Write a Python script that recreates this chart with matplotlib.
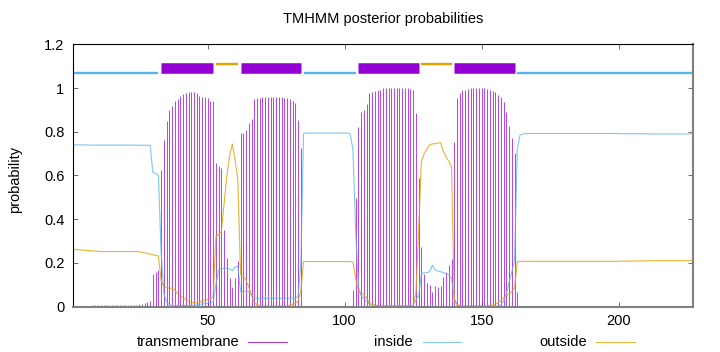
import numpy as np
import matplotlib
matplotlib.use('Agg')
import matplotlib.pyplot as plt
from matplotlib.lines import Line2D

plt.rcParams['font.family'] = ['Liberation Sans', 'DejaVu Sans']
plt.rcParams['font.size'] = 10.5

# posterior probabilities per residue (1..227)
transmembrane = [
    0, 0, 0, 0, 0.004, 0.004, 0.004, 0.005, 0.006, 0.008,
    0.009, 0.009, 0.009, 0.009, 0.009, 0.009, 0.009, 0.009, 0.009, 0.009,
    0.009, 0.009, 0.009, 0.009, 0.011, 0.013, 0.016, 0.02, 0.025, 0.148,
    0.157, 0.168, 0.625, 0.762, 0.85, 0.90, 0.919, 0.942, 0.951, 0.965,
    0.972, 0.977, 0.982, 0.983, 0.982, 0.976, 0.964, 0.958, 0.958, 0.953,
    0.942, 0.94, 0.656, 0.643, 0.633, 0.351, 0.224, 0.13, 0.09, 0.13,
    0.21, 0.793, 0.793, 0.81, 0.838, 0.86, 0.95, 0.953, 0.955, 0.957,
    0.957, 0.957, 0.958, 0.958, 0.958, 0.957, 0.957, 0.956, 0.955, 0.95,
    0.942, 0.93, 0.854, 0.724, 0.001, 0, 0, 0, 0, 0,
    0, 0, 0, 0, 0, 0, 0, 0, 0, 0,
    0, 0, 0.076, 0.495, 0.823, 0.892, 0.9, 0.925, 0.976, 0.98,
    0.988, 0.99, 0.993, 0.998, 0.998, 0.998, 0.998, 0.998, 0.998, 0.998,
    0.998, 0.998, 0.998, 0.995, 0.99, 0.884, 0.587, 0.274, 0.15, 0.11,
    0.1, 0.065, 0.095, 0.09, 0.095, 0.135, 0.16, 0.19, 0.22, 0.752,
    0.953, 0.979, 0.99, 0.993, 0.996, 0.998, 0.998, 0.998, 0.998, 0.998,
    0.998, 0.996, 0.99, 0.985, 0.98, 0.97, 0.958, 0.935, 0.89, 0.825,
    0.77, 0.704, 0.069, 0.003, 0, 0, 0, 0, 0, 0,
    0, 0, 0, 0, 0, 0, 0, 0, 0, 0,
    0, 0, 0, 0, 0, 0, 0, 0, 0, 0,
    0, 0, 0, 0, 0, 0, 0, 0, 0, 0,
    0, 0, 0, 0, 0, 0, 0, 0, 0, 0,
    0, 0, 0, 0, 0, 0, 0, 0, 0, 0,
    0, 0, 0, 0, 0, 0, 0,
]

inside = [
    0.74, 0.74, 0.74, 0.74, 0.74, 0.739, 0.739, 0.739, 0.739, 0.739,
    0.739, 0.739, 0.739, 0.739, 0.739, 0.739, 0.739, 0.739, 0.739, 0.739,
    0.739, 0.739, 0.739, 0.739, 0.738, 0.738, 0.738, 0.738, 0.737, 0.613,
    0.61, 0.60, 0.25, 0.06, 0.023, 0.008, 0.006, 0.005, 0.005, 0.005,
    0.005, 0.005, 0.005, 0.005, 0.006, 0.008, 0.01, 0.012, 0.014, 0.016,
    0.018, 0.02, 0.1, 0.165, 0.172, 0.175, 0.175, 0.172, 0.165, 0.18,
    0.185, 0.069, 0.07, 0.07, 0.068, 0.055, 0.04, 0.038, 0.038, 0.038,
    0.038, 0.038, 0.038, 0.038, 0.038, 0.038, 0.038, 0.038, 0.038, 0.038,
    0.039, 0.04, 0.045, 0.2, 0.793, 0.794, 0.794, 0.794, 0.794, 0.794,
    0.794, 0.794, 0.794, 0.794, 0.794, 0.794, 0.794, 0.794, 0.794, 0.794,
    0.794, 0.79, 0.72, 0.35, 0.09, 0.05, 0.035, 0.025, 0.012, 0.008,
    0.005, 0.003, 0.003, 0.003, 0.003, 0.003, 0.003, 0.003, 0.003, 0.003,
    0.003, 0.003, 0.003, 0.003, 0.004, 0.03, 0.05, 0.15, 0.155, 0.155,
    0.16, 0.19, 0.168, 0.163, 0.16, 0.155, 0.15, 0.145, 0.13, 0.04,
    0.008, 0.003, 0.002, 0.002, 0.002, 0.002, 0.002, 0.002, 0.002, 0.002,
    0.002, 0.002, 0.002, 0.002, 0.002, 0.003, 0.008, 0.025, 0.06, 0.11,
    0.16, 0.21, 0.72, 0.785, 0.79, 0.791, 0.792, 0.792, 0.792, 0.792,
    0.792, 0.792, 0.792, 0.792, 0.792, 0.792, 0.792, 0.792, 0.792, 0.792,
    0.792, 0.792, 0.792, 0.792, 0.792, 0.792, 0.792, 0.792, 0.792, 0.792,
    0.792, 0.792, 0.792, 0.792, 0.792, 0.792, 0.792, 0.792, 0.792, 0.792,
    0.791, 0.791, 0.791, 0.791, 0.791, 0.791, 0.791, 0.791, 0.791, 0.791,
    0.790, 0.790, 0.790, 0.790, 0.790, 0.790, 0.790, 0.790, 0.790, 0.790,
    0.790, 0.790, 0.790, 0.790, 0.790, 0.790, 0.790,
]

outside = [
    0.262, 0.261, 0.26, 0.259, 0.258, 0.257, 0.256, 0.255, 0.254, 0.253,
    0.252, 0.252, 0.252, 0.252, 0.252, 0.252, 0.252, 0.252, 0.252, 0.252,
    0.252, 0.252, 0.252, 0.252, 0.251, 0.249, 0.246, 0.243, 0.24, 0.237,
    0.234, 0.232, 0.12, 0.09, 0.087, 0.085, 0.083, 0.075, 0.06, 0.05,
    0.04, 0.032, 0.026, 0.02, 0.017, 0.016, 0.018, 0.028, 0.03, 0.032,
    0.038, 0.045, 0.32, 0.33, 0.345, 0.47, 0.6, 0.69, 0.744, 0.67,
    0.58, 0.145, 0.14, 0.12, 0.09, 0.05, 0.02, 0.008, 0.004, 0.003,
    0.003, 0.003, 0.003, 0.003, 0.003, 0.003, 0.003, 0.003, 0.003, 0.006,
    0.01, 0.015, 0.025, 0.07, 0.206, 0.206, 0.206, 0.206, 0.206, 0.206,
    0.206, 0.206, 0.206, 0.206, 0.206, 0.206, 0.206, 0.206, 0.206, 0.206,
    0.206, 0.206, 0.204, 0.13, 0.07, 0.06, 0.055, 0.04, 0.015, 0.01,
    0.006, 0.004, 0.003, 0.002, 0.002, 0.002, 0.002, 0.002, 0.002, 0.002,
    0.002, 0.002, 0.002, 0.003, 0.005, 0.06, 0.35, 0.66, 0.70, 0.72,
    0.74, 0.745, 0.745, 0.748, 0.75, 0.71, 0.685, 0.665, 0.64, 0.03,
    0.01, 0.005, 0.003, 0.002, 0.002, 0.002, 0.002, 0.002, 0.002, 0.002,
    0.002, 0.003, 0.005, 0.008, 0.012, 0.018, 0.028, 0.04, 0.05, 0.058,
    0.068, 0.085, 0.207, 0.207, 0.207, 0.207, 0.207, 0.207, 0.207, 0.207,
    0.207, 0.207, 0.207, 0.207, 0.207, 0.207, 0.207, 0.207, 0.207, 0.207,
    0.207, 0.207, 0.207, 0.207, 0.207, 0.207, 0.207, 0.207, 0.207, 0.207,
    0.207, 0.207, 0.207, 0.207, 0.207, 0.207, 0.207, 0.207, 0.207, 0.207,
    0.208, 0.208, 0.208, 0.208, 0.208, 0.209, 0.209, 0.209, 0.209, 0.209,
    0.210, 0.210, 0.210, 0.210, 0.210, 0.210, 0.210, 0.210, 0.210, 0.210,
    0.210, 0.210, 0.210, 0.210, 0.210, 0.210, 0.210,
]

# predicted topology segments shown above the curves
seg_start = [1, 33, 53, 62, 85, 105, 128, 140, 163]
seg_end = [32, 52, 61, 84, 104, 127, 139, 162, 227]
seg_kind = ['inside', 'TMhelix', 'outside', 'TMhelix', 'inside',
            'TMhelix', 'outside', 'TMhelix', 'inside']

residues = np.arange(1, len(transmembrane) + 1)

c_tm = '#9400d3'
c_in = '#56b4e9'
c_out = '#e69f00'

fig = plt.figure(figsize=(7.2, 3.52), dpi=100)
ax = fig.add_axes([0.102, 0.129, 0.860, 0.745])

ax.vlines(residues, 0, transmembrane, colors=c_tm, lw=0.75, alpha=0.7)
ax.plot(residues, inside, color=c_in, lw=0.8, alpha=0.75)
ax.plot(residues, outside, color=c_out, lw=0.8, alpha=0.8)

seg_style = {
    'inside': (1.071, c_in, 1.7),
    'outside': (1.112, c_out, 1.7),
    'TMhelix': (1.091, c_tm, 7.6),
}
for s, e, k in zip(seg_start, seg_end, seg_kind):
    lvl, col, w = seg_style[k]
    ax.plot([s, e], [lvl, lvl], color=col, lw=w, solid_capstyle='butt')

ax.set_xlim(1, 227)
ax.set_ylim(0, 1.2)
ax.set_xticks([50, 100, 150, 200])
ax.set_yticks([0, 0.2, 0.4, 0.6, 0.8, 1.0, 1.2])
ax.set_yticklabels(['0', '0.2', '0.4', '0.6', '0.8', '1', '1.2'])
ax.tick_params(direction='in', top=True, right=True, length=3.5, width=0.6,
               color='#555555')
ax.tick_params(axis='x', pad=5)
ax.tick_params(axis='y', pad=6.5)

for side in ['left', 'top']:
    ax.spines[side].set_color('black')
    ax.spines[side].set_linewidth(0.8)
for side in ['bottom', 'right']:
    ax.spines[side].set_color('#808080')
    ax.spines[side].set_linewidth(1.5)

fig.text(0.532, 0.946, 'TMHMM posterior probabilities', ha='center', va='center')
fig.text(0.021, 0.49, 'probability', rotation=90, ha='center', va='center')

# legend along the bottom, gnuplot style: label then line sample
legend_items = [('transmembrane', c_tm, 239, 248, 287),
                ('inside', c_in, 413, 423, 461),
                ('outside', c_out, 587, 596, 635)]
ly = 1 - 341.7 / 352
for label, col, tx, x0, x1 in legend_items:
    fig.text(tx / 720, ly, label, ha='right', va='center')
    fig.add_artist(Line2D([x0 / 720, x1 / 720], [ly, ly], color=col, lw=0.8,
                          alpha=0.75, transform=fig.transFigure))

fig.savefig('out.png', dpi=100)
